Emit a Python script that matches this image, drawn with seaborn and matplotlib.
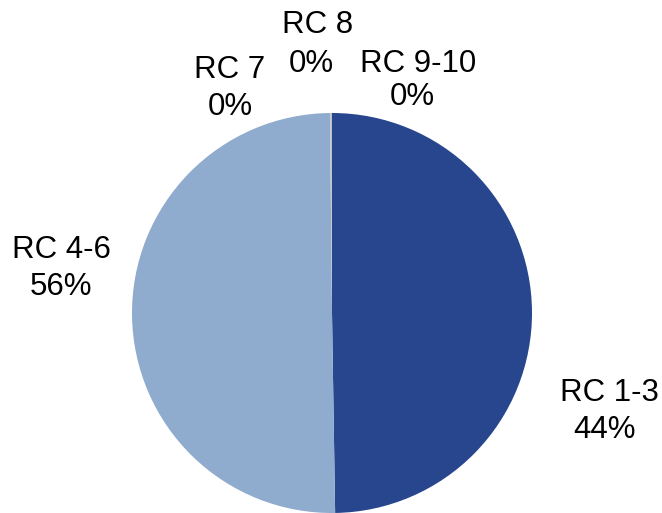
import matplotlib
matplotlib.use("Agg")
import matplotlib.pyplot as plt
import seaborn as sns

categories = ["RC 1-3", "RC 4-6", "RC 7", "RC 8", "RC 9-10"]
shares = [49.75, 50.09, 0.05, 0.06, 0.05]
label_pcts = ["44%", "56%", "0%", "0%", "0%"]
colors = ["#27468E", "#8FABCD", "#C3C3C3", "#B5B5B5", "#A8A8A8"]

sns.set_style("white")
plt.rcParams['font.family'] = ['Liberation Sans', 'DejaVu Sans']

W, H = 662, 513
fig = plt.figure(figsize=(W / 100, H / 100), dpi=100)
ax = fig.add_axes([132 / W, 0, 400 / W, 400 / H])
wedges, _ = ax.pie(shares, colors=colors, startangle=90, counterclock=False,
                   radius=1.0, wedgeprops=dict(linewidth=0))
ax.set_xlim(-1, 1)
ax.set_ylim(-1, 1)
ax.set_aspect("equal")
ax.axis("off")

# label placement (pixel centers x, baseline y from top) for name line and percent line
name_pos = [(609, 401), (61.5, 258), (229.5, 78), (317.5, 33), (418.5, 72)]
pct_pos = [(604.5, 438), (61, 295), (230, 115), (311.5, 72), (412, 105)]
for cat, pct, (nx, ny), (px, py) in zip(categories, label_pcts, name_pos, pct_pos):
    fig.text(nx / W, 1 - ny / H, cat, ha="center", va="baseline",
             fontsize=22.5, color="black")
    fig.text(px / W, 1 - py / H, pct, ha="center", va="baseline",
             fontsize=22.5, color="black")

fig.savefig("out.png", dpi=100)
